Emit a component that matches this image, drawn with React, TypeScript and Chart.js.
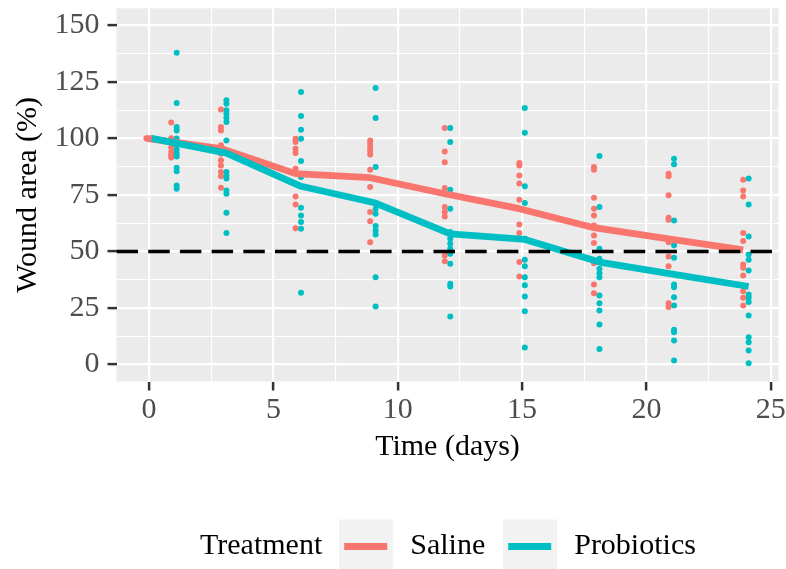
import React, { useEffect, useRef } from 'react';
import { Chart, registerables } from 'chart.js';

Chart.register(...registerables);

// ---- data ----
const pointDays = [0, 1, 3, 6, 9, 12, 15, 18, 21, 24];

const salinePoints = [
  [100],
  [107, 100, 98, 96, 94, 92.5, 91.5],
  [112.8, 105, 103.5, 97, 94.7, 93.2, 90.3, 88, 85.1, 83.3, 78.2],
  [99.8, 98.4, 95.4, 93.5, 86.6, 85.1, 74.3, 70.8, 60.3],
  [99.1, 97.6, 95.9, 94.4, 92.9, 86.1, 78.5, 67.4, 63.4, 54.1],
  [104.6, 94.2, 89.4, 78, 69.6, 67.4, 65.5, 48.2, 45.7],
  [89.1, 88, 83.6, 80, 72.9, 61.9, 58.1, 45.3, 38.9],
  [87.3, 86.1, 73.7, 68.9, 65.9, 61.5, 57.1, 53.7, 44.8, 35.4, 31.5],
  [84.4, 83.2, 74.8, 64.9, 64, 54.1, 47.8, 43.4, 27.1, 25.4],
  [81.7, 77, 74.3, 58.1, 54.6, 44.2, 42.8, 39.4, 32.4, 29.5, 26.1],
];

const probioticsPoints = [
  [100],
  [137.9, 115.6, 105, 103.5, 99.9, 96.9, 95, 93.2, 92, 87, 85.5, 79.2, 77.7],
  [116.8, 115.3, 112.4, 110.9, 109.1, 107.2, 99.1, 85.1, 83.6, 82.2, 77, 75.5, 67.1, 58.1],
  [120.5, 109.9, 103.8, 99.8, 90, 82.9, 69.3, 65.9, 63, 60, 31.7],
  [122.3, 109, 87.3, 68.9, 66.7, 61.2, 59.3, 57.5, 38.6, 25.7],
  [104.6, 98.4, 77.3, 68.9, 58.6, 55.6, 53.4, 51.2, 49, 44.6, 35.7, 34.5, 21.2],
  [113.4, 102.5, 78.8, 71.4, 55.6, 46.3, 43.4, 38.6, 35, 30.1, 23.6, 7.5],
  [92.2, 69.6, 51.2, 46.8, 42.3, 40.4, 38.6, 30.5, 27.1, 23.9, 17.7, 6.9],
  [91, 88.5, 63.7, 52.7, 47.2, 35.4, 34.2, 29.8, 26.1, 15.4, 14.3, 10.6, 1.8],
  [82.2, 70.8, 56.6, 48.7, 46.3, 41.6, 31, 29.5, 27.6, 21.7, 12.1, 9.9, 6.2, 0.6],
];

const lineDays = [0, 3, 6, 9, 12, 15, 18, 21, 24];
const salineMean = [100, 95.5, 84.4, 82.6, 75.5, 68.9, 60.5, 55.6, 50.7];
const probioticsMean = [100, 93.5, 78.8, 71.4, 57.8, 55.3, 45.3, 39.9, 34.5];

const seriesNames = ['Saline', 'Probiotics'];
const legendTitle = 'Treatment';
const xTitle = 'Time (days)';
const yTitle = 'Wound area (%)';

const xMajorTicks = [0, 5, 10, 15, 20, 25];
const xMinorTicks = [2.5, 7.5, 12.5, 17.5, 22.5];
const yMajorTicks = [0, 25, 50, 75, 100, 125, 150];
const yMinorTicks = [12.5, 37.5, 62.5, 87.5, 112.5, 137.5];
const xLimits = [-1.31, 25.31];
const yLimits = [-7.5, 157.5];
const thresholdValue = 50;

// ---- styles ----
const DODGE = 0.11;
const SALINE_COLOR = '#F8766D';
const PROBIOTICS_COLOR = '#00BFC4';
const FONT = '"Liberation Serif", "Times New Roman", serif';

const toXY = (days: number[], groups: number[][], offset: number) =>
  days.flatMap((d, i) => groups[i].map((v) => ({ x: d + offset, y: v })));

export default function App() {
  const ref = useRef<HTMLCanvasElement>(null);

  useEffect(() => {
    const canvas = ref.current;
    if (!canvas) return;

    const panelBg = {
      id: 'panelBg',
      beforeDraw(chart: any) {
        const { ctx, chartArea } = chart;
        const { left, top, right, bottom } = chartArea;
        ctx.save();
        ctx.fillStyle = '#EBEBEB';
        ctx.fillRect(left, top, right - left, bottom - top);
        ctx.restore();
      },
    };

    const ggLegend = {
      id: 'ggLegend',
      afterDraw(chart: any) {
        const ctx = chart.ctx;
        ctx.save();
        ctx.font = `30px ${FONT}`;
        ctx.textBaseline = 'middle';
        ctx.textAlign = 'left';
        const cy = 546.5;
        const keySize = 54;
        let x = 200;
        ctx.fillStyle = '#000';
        ctx.fillText(legendTitle, x, cy);
        x += ctx.measureText(legendTitle).width + 17;
        const colors = [SALINE_COLOR, PROBIOTICS_COLOR];
        seriesNames.forEach((name, i) => {
          ctx.fillStyle = '#F2F2F2';
          ctx.fillRect(x, cy - keySize / 2, keySize, keySize);
          ctx.strokeStyle = colors[i];
          ctx.lineWidth = 7;
          ctx.lineCap = 'butt';
          ctx.beginPath();
          ctx.moveTo(x + 5, cy);
          ctx.lineTo(x + keySize - 6, cy);
          ctx.stroke();
          x += keySize + 17;
          ctx.fillStyle = '#000';
          ctx.fillText(name, x, cy);
          x += ctx.measureText(name).width + 18;
        });
        ctx.restore();
      },
    };

    const isMajorX = (v: number) => xMajorTicks.includes(v);
    const isMajorY = (v: number) => yMajorTicks.includes(v);

    const tickFont = { family: FONT, size: 30, lineHeight: 1.2 };
    const titleFont = { family: FONT, size: 30, lineHeight: 1.2 };

    const chart = new Chart(canvas, {
      type: 'scatter',
      data: {
        datasets: [
          {
            label: 'threshold',
            data: [
              { x: xLimits[0], y: thresholdValue },
              { x: xLimits[1], y: thresholdValue },
            ],
            showLine: true,
            borderColor: '#000000',
            borderWidth: 3.5,
            borderDash: [21.5, 10.2],
            pointRadius: 0,
            borderCapStyle: 'butt',
          },
          {
            label: seriesNames[1] + ' mean',
            data: lineDays.map((d, i) => ({ x: d + DODGE, y: probioticsMean[i] })),
            showLine: true,
            borderColor: PROBIOTICS_COLOR,
            borderWidth: 6.8,
            pointRadius: 0,
            borderCapStyle: 'butt',
            borderJoinStyle: 'round',
          },
          {
            label: seriesNames[0] + ' mean',
            data: lineDays.map((d, i) => ({ x: d - DODGE, y: salineMean[i] })),
            showLine: true,
            borderColor: SALINE_COLOR,
            borderWidth: 6.8,
            pointRadius: 0,
            borderCapStyle: 'butt',
            borderJoinStyle: 'round',
          },
          {
            label: seriesNames[1],
            data: toXY(pointDays, probioticsPoints, DODGE),
            backgroundColor: PROBIOTICS_COLOR,
            borderWidth: 0,
            pointRadius: 3,
          },
          {
            label: seriesNames[0],
            data: toXY(pointDays, salinePoints, -DODGE),
            backgroundColor: SALINE_COLOR,
            borderWidth: 0,
            pointRadius: 3,
          },
        ] as any,
      },
      options: {
        responsive: false,
        animation: false,
        events: [],
        layout: { padding: { left: 0, top: 8.3, right: 7.5, bottom: 104 } },
        plugins: { legend: { display: false }, tooltip: { enabled: false } },
        scales: {
          x: {
            type: 'linear',
            min: xLimits[0],
            max: xLimits[1],
            afterBuildTicks: (s: any) => {
              s.ticks = [...xMajorTicks, ...xMinorTicks].sort((a, b) => a - b).map((v) => ({ value: v }));
            },
            afterFit: (s: any) => {
              s.height = 83.5;
              s.paddingLeft = 0;
              s.paddingRight = 0;
            },
            ticks: {
              autoSkip: false,
              maxRotation: 0,
              minRotation: 0,
              padding: 2,
              color: '#4D4D4D',
              font: tickFont,
              callback: (v: any) => (isMajorX(Number(v)) ? String(v) : ''),
            },
            grid: {
              color: '#FFFFFF',
              lineWidth: (c: any) => (c.tick && isMajorX(c.tick.value) ? 2.2 : 1.1),
              drawTicks: true,
              tickLength: 9,
              tickWidth: 2.5,
              tickColor: (c: any) => (c.tick && isMajorX(c.tick.value) ? '#333333' : 'rgba(0,0,0,0)'),
            },
            border: { display: false },
            title: {
              display: true,
              text: xTitle,
              color: '#000000',
              font: titleFont,
              padding: { top: 0, bottom: 0 },
            },
          },
          y: {
            type: 'linear',
            min: yLimits[0],
            max: yLimits[1],
            afterBuildTicks: (s: any) => {
              s.ticks = [...yMajorTicks, ...yMinorTicks].sort((a, b) => a - b).map((v) => ({ value: v }));
            },
            afterFit: (s: any) => {
              s.width = 116.5;
              s.paddingTop = 0;
              s.paddingBottom = 0;
            },
            ticks: {
              autoSkip: false,
              padding: 8,
              color: '#4D4D4D',
              font: tickFont,
              callback: (v: any) => (isMajorY(Number(v)) ? String(v) : ''),
            },
            grid: {
              color: '#FFFFFF',
              lineWidth: (c: any) => (c.tick && isMajorY(c.tick.value) ? 2.2 : 1.1),
              drawTicks: true,
              tickLength: 9,
              tickWidth: 2.5,
              tickColor: (c: any) => (c.tick && isMajorY(c.tick.value) ? '#333333' : 'rgba(0,0,0,0)'),
            },
            border: { display: false },
            title: {
              display: true,
              text: yTitle,
              color: '#000000',
              font: titleFont,
              padding: { top: 10, bottom: 0 },
            },
          },
        },
      } as any,
      plugins: [panelBg, ggLegend],
    });

    return () => chart.destroy();
  }, []);

  return (
    <div style={{ position: 'absolute', left: 0, top: 0, width: 786, height: 569, background: '#FFFFFF' }}>
      <canvas ref={ref} width={786} height={569} style={{ display: 'block', width: 786, height: 569 }} />
    </div>
  );
}
